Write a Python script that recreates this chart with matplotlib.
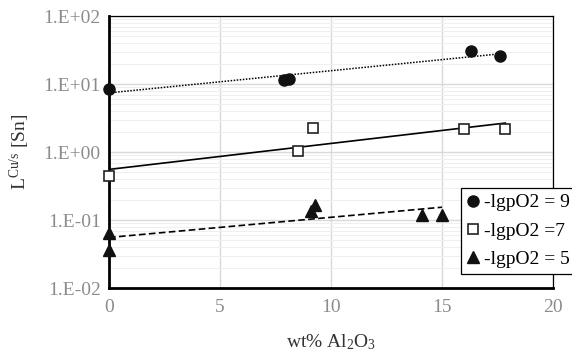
import numpy as np
import matplotlib
matplotlib.use('Agg')
import matplotlib.pyplot as plt
from matplotlib.ticker import FuncFormatter, LogLocator, NullFormatter

plt.rcParams['font.family'] = ['Liberation Serif', 'DejaVu Serif']
plt.rcParams['mathtext.fontset'] = 'custom'
plt.rcParams['mathtext.rm'] = 'Liberation Serif'
plt.rcParams['mathtext.it'] = 'Liberation Serif:italic'

# -lgpO2 = 9
x9 = [0, 7.9, 8.1, 16.3, 17.6]
y9 = [8.5, 11.5, 12.0, 31.0, 26.0]
# -lgpO2 = 7
x7 = [0, 8.5, 9.2, 16.0, 17.85]
y7 = [0.45, 1.02, 2.25, 2.15, 2.2]
# -lgpO2 = 5
x5 = [0, 0, 9.1, 9.3, 14.1, 15.0]
y5 = [0.065, 0.036, 0.134, 0.168, 0.117, 0.12]

labels = ['-lgpO2 = 9', '-lgpO2 =7', '-lgpO2 = 5']


def trend(x, y):
    # exponential trendline, like Excel's
    k, b = np.polyfit(x, np.log(y), 1)
    xx = np.linspace(0, max(x), 50)
    return xx, np.exp(b + k * xx)


fig = plt.figure(figsize=(5.72, 3.52), dpi=100)
ax = fig.add_axes([0.1906, 0.1818, 0.7762, 0.7727])

ax.set_yscale('log')
ax.set_xlim(0, 20)
ax.set_ylim(1e-2, 1e2)

ax.grid(True, which='major', color='#d9d9d9', lw=1.0)
ax.yaxis.set_minor_locator(LogLocator(base=10, subs=np.arange(2, 10)))
ax.yaxis.set_minor_formatter(NullFormatter())
ax.grid(True, which='minor', axis='y', color='#efefef', lw=0.8)
ax.set_axisbelow(True)

tx, ty = trend(x9, y9)
ax.plot(tx, ty, color='black', lw=1.1, ls=(0, (1, 1)))
tx, ty = trend(x7, y7)
ax.plot(tx, ty, color='black', lw=1.2, ls='-')
tx, ty = trend(x5, y5)
ax.plot(tx, ty, color='black', lw=1.2, ls=(0, (4, 2)))

h1, = ax.plot(x9, y9, 'o', color='#111111', ms=8, zorder=3, clip_on=False)
h2, = ax.plot(x7, y7, 's', mfc='white', mec='#222222', mew=1.2, ms=7.5, zorder=3, clip_on=False)
h3, = ax.plot(x5, y5, '^', color='#111111', ms=8.5, zorder=3, clip_on=False)

ax.set_xticks([0, 5, 10, 15, 20])
ax.yaxis.set_major_formatter(FuncFormatter(lambda v, p: '1.E%+03d' % int(round(np.log10(v)))))
ax.tick_params(which='both', length=0, labelsize=14, colors='#8c8c8c', pad=6)
ax.tick_params(axis='x', pad=8)

for s in ['top', 'right']:
    ax.spines[s].set_linewidth(0.9)
for s in ['left', 'bottom']:
    ax.spines[s].set_linewidth(2.0)

ax.set_xlabel(r'wt% Al$_2$O$_3$', fontsize=14, color='#333333', labelpad=12)
ax.set_ylabel(r'L$^{\mathregular{Cu/s}}$ [Sn]', fontsize=14, color='#333333', labelpad=8)

leg = fig.legend([h1, h2, h3], labels, loc='upper left', bbox_to_anchor=(0.806, 0.466),
                 fontsize=14, handlelength=0.6, handletextpad=0.3, labelspacing=0.55,
                 borderpad=0.3, borderaxespad=0, fancybox=False, framealpha=1)
leg.get_frame().set_edgecolor('black')
leg.get_frame().set_linewidth(0.9)
leg.set_zorder(5)

fig.savefig('out.png', dpi=100)
